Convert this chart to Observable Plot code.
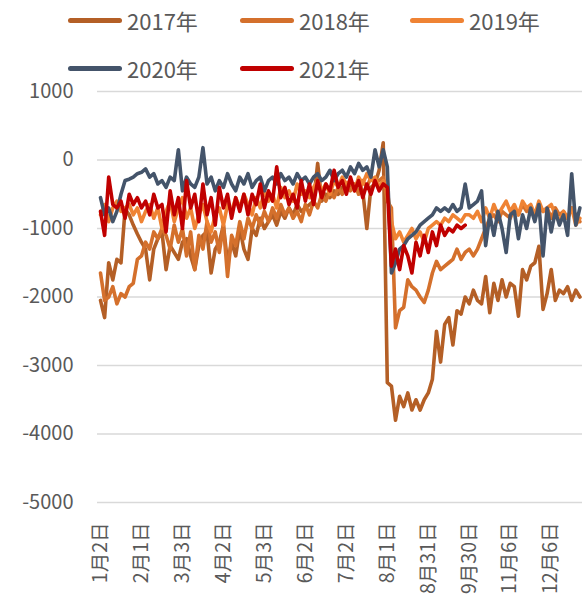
<!DOCTYPE html>
<html>
<head>
<meta charset="utf-8">
<script src="https://cdn.jsdelivr.net/npm/d3@7"></script>
<script src="https://cdn.jsdelivr.net/npm/@observablehq/plot@0.6"></script>
<style>
  html, body { margin: 0; padding: 0; background: #fff; }
  body { width: 582px; height: 610px; overflow: hidden; font-family: "Noto Sans CJK SC", "Noto Sans", sans-serif; }
  #legend { position: relative; width: 582px; height: 80px; }
  .item { position: absolute; display: flex; align-items: center; font-size: 22px; color: #595959; line-height: 1; }
  .sw { width: 54px; height: 5px; border-radius: 3px; margin-right: 5px; }
  #chart svg { display: block; }
</style>
</head>
<body>
<div id="legend"></div>
<div id="chart"></div>
<script>
const years = ["2017年", "2018年", "2019年", "2020年", "2021年"];
const colors = ["#B45F26", "#D4702C", "#EF8334", "#44546A", "#C00000"];
const tickLabels = ["1月2日","2月1日","3月3日","4月2日","5月3日","6月2日","7月2日","8月1日","8月31日","9月30日","11月6日","12月6日"];
const yTicks = [-5000, -4000, -3000, -2000, -1000, 0, 1000];

// values sampled every 3 trading days (index step = 3)
const s2017 = [
  -2050, -2300, -1500, -1750, -1450, -1500,
  -720, -800, -950, -1080, -1200, -1300,
  -1750, -1300, -1150, -1050, -1600, -1250, -1350, -1450, -1200, -1150, -1400, -1600, -1250,
  -1100, -1050, -1650, -1300, -1200, -950, -1500, -1200, -1400, -1000, -1300, -1450, -1000,
  -1100, -850, -1000, -900, -800, -950, -750, -850, -700, -800, -650, -750, -700, -650, -600,
  -50,
  -600, -500, -550, -450, -500, -400, -450, -350, -400, -350, -450, -1000, -400,
  -350, -150, 250, -3250,
  -3300, -3800, -3450, -3600, -3400, -3650, -3500, -3650, -3500, -3400, -3200,
  -2500, -2950, -2400, -2300, -2700, -2200, -2250, -2000, -2100, -1900,
  -2050, -2100, -1700, -2230, -1800, -2050, -1750, -2000, -1800, -1850, -2280, -1600, -1750,
  -1550, -1500, -1260, -2180, -1950, -1600, -2050, -1900, -1950, -1850, -2050, -1900, -2000
];
const s2018 = [
  -1650, -2050, -2000, -1850, -2100, -1950, -2000, -1850, -1800, -1450, -1400, -1200,
  -1300, -1050, -1150, -1000, -1100, -1300, -950, -1200, -1000, -1400, -1050, -1600, -1100,
  -1300, -900, -1200, -1050, -1350, -950, -1700, -1100, -1250, -900, -1150, -850, -1000,
  -800, -950, -750, -900, -700, -850, -650, -800, -700, -850, -750, -900, -650, -800, -600, -700,
  -500, -600, -450, -550, -400, -500, -350, -450, -350, -500, -300, -400, -250, -350, -300, -250,
  -600, -700, -2450, -2200, -2150, -1750, -1850, -1900, -2000, -2080, -1900, -1650,
  -1480, -1600, -1550, -1500, -1450, -1300, -1450, -1350, -1300, -1400, -1300, -1150,
  -1000, -850, -800, -900, -750, -800, -850, -700, -800, -650, -750, -700, -800, -650,
  -750, -700, -850, -700, -800, -750, -850, -700, -800, -900
];
const s2019 = [
  -800, -650, -900, -700, -600, -750, -700, -650, -800, -700, -900, -750, -650, -850, -700,
  -1000, -750, -600, -900, -700, -550, -850, -700, -1000, -800, -650, -900, -1050, -800, -700,
  -950, -650, -750, -550, -700, -500, -650, -800,
  -550, -700, -450, -600, -500, -700, -400, -550, -450, -600, -350, -500, -450, -550, -400, -300,
  -450, -350, -500, -300, -400, -250, -350, -300, -450, -250, -350, -200, -300, -250, -400, -300,
  -450, -900, -1150, -1050, -1200, -1100, -1000, -1150, -1050, -1200, -1000, -950, -900, -950,
  -850, -900, -800, -850, -900, -800, -800, -850, -750, -900, -700, -850, -650, -800, -700, -600,
  -750, -650, -800, -600, -700, -650, -800, -600, -750, -700, -650, -800, -900, -750, -850, -700,
  -950, -850
];
const s2020 = [
  -550, -800, -700, -900, -750, -500, -300, -280, -250, -200, -180, -130,
  -250, -200, -350, -300, -400, -250, -300, 150, -450, -250, -350, -400, -250, 180, -350, -250,
  -450, -300, -400, -200, -350, -450, -250, -350, -200, -400,
  -300, -250, -450, -300, -250, -350, -200, -300, -250, -350, -200, -300, -250, -350, -250, -200,
  -300, -250, -150, -300, -200, -150, -250, -100, -200, -50, -150, -100, -250, 150, -100, 150,
  -100, -1650, -1500, -1300, -1250, -1150, -1100, -1050, -950, -900, -850, -800, -700, -750,
  -700, -750, -650, -750, -700, -350, -700, -650, -600, -450, -1250, -800, -1100, -750, -1000,
  -1350, -800, -750, -1150, -800, -1000, -700, -900, -650, -1400, -700, -1050, -750, -950, -800,
  -1100, -200, -950, -700
];
const s2021 = [
  -750, -1100, -250, -650, -700, -600, -850, -500, -650, -550, -700, -600, -800, -500, -700,
  -650, -1050, -450, -800, -550, -1000, -300, -700, -500, -900, -350, -800, -550, -950, -400,
  -700, -500, -850, -550, -750, -500,
  -800, -500, -650, -350, -700, -450, -600, -100, -550, -400, -650, -500, -700, -300, -600, -350,
  -650, -300, -550, -350, -450, -150, -400, -300, -500, -250, -450, -300, -550, -350, -500, -300,
  -450, -350,
  -400, -1550, -1300, -1600, -1250, -1400, -1650, -1200, -1400, -1100, -1350, -1050, -1250, -950,
  -1100, -1000, -1050, -950, -1000, -950
];

const series = [s2017, s2018, s2019, s2020, s2021];
const rows = [];
series.forEach((vals, i) => vals.forEach((v, k) => rows.push({year: years[i], idx: k * 3, value: v})));
const tickIdx = tickLabels.map((_, i) => i * 30);

// legend
const legendPos = [[68, 21], [240, 21], [410, 21], [68, 69], [240, 69]];
const legend = document.getElementById("legend");
years.forEach((y, i) => {
  const it = document.createElement("div");
  it.className = "item";
  it.style.left = legendPos[i][0] + "px";
  it.style.top = (legendPos[i][1] - 12) + "px";
  it.innerHTML = `<span class="sw" style="background:${colors[i]}"></span><span>${y}</span>`;
  legend.appendChild(it);
});

const chart = Plot.plot({
  width: 582,
  height: 530,
  marginLeft: 97,
  marginRight: 0,
  marginTop: 11,
  marginBottom: 108,
  style: {fontFamily: "'Noto Sans CJK SC', 'Noto Sans', sans-serif", color: "#595959", background: "white", overflow: "visible"},
  x: {domain: [-2.2, 352.9], label: null},
  y: {domain: [-5000, 1000], label: null},
  color: {domain: years, range: colors},
  marks: [
    Plot.gridY(yTicks, {stroke: "#D9D9D9", strokeOpacity: 1, strokeWidth: 1.5}),
    Plot.axisY(yTicks, {tickSize: 0, tickPadding: 24, fontSize: 20, tickFormat: d => String(d)}),
    Plot.axisX(tickIdx, {tickSize: 0, tickRotate: -90, tickPadding: 20, fontSize: 19.5, tickFormat: d => tickLabels[d / 30]}),
    Plot.lineY(rows, {x: "idx", y: "value", z: "year", stroke: "year", strokeWidth: 3.6, strokeLinejoin: "round"})
  ]
});
document.getElementById("chart").appendChild(chart);
</script>
</body>
</html>
